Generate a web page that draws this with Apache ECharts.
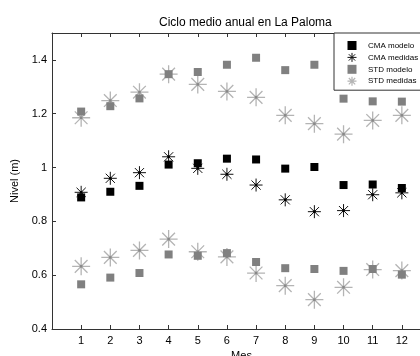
<!DOCTYPE html>
<html>
<head>
<meta charset="utf-8">
<script src="https://cdn.jsdelivr.net/npm/echarts@6/dist/echarts.min.js"></script>
<style>
html,body{margin:0;padding:0;background:#fff;}
#chart{width:420px;height:356px;}
</style>
</head>
<body>
<div id="chart"></div>
<script>
// ---- data ----
var months = [1, 2, 3, 4, 5, 6, 7, 8, 9, 10, 11, 12];
var monthLabels = ['1', '2', '3', '4', '5', '6', '7', '8', '9', '10', '11', '12'];
var yTickLabels = ['0.4', '0.6', '0.8', '1', '1.2', '1.4'];
var cmaModelo = [0.889, 0.910, 0.932, 1.011, 1.016, 1.033, 1.030, 0.996, 1.002, 0.935, 0.937, 0.924];
var cmaMedidas = [0.908, 0.960, 0.981, 1.040, 0.997, 0.975, 0.935, 0.880, 0.836, 0.840, 0.899, 0.906];
var stdModeloSup = [1.208, 1.228, 1.257, 1.347, 1.355, 1.382, 1.408, 1.362, 1.382, 1.256, 1.246, 1.245];
var stdModeloInf = [0.566, 0.591, 0.608, 0.677, 0.672, 0.682, 0.649, 0.626, 0.623, 0.616, 0.623, 0.602];
var stdMedidasSup = [1.185, 1.249, 1.280, 1.347, 1.309, 1.283, 1.261, 1.194, 1.163, 1.124, 1.175, 1.194];
var stdMedidasInf = [0.633, 0.666, 0.692, 0.734, 0.687, 0.668, 0.608, 0.561, 0.509, 0.555, 0.621, 0.617];
var seriesNames = ['CMA modelo', 'CMA medidas', 'STD modelo', 'STD medidas'];

function pts(vals) { return months.map(function (m, i) { return [m, vals[i]]; }); }

var star = 'path://M0,7L14,7M7,0L7,14M2.05,2.05L11.95,11.95M11.95,2.05L2.05,11.95';
var square = 'path://M0,0L10,0L10,10L0,10Z';
var font = 'Liberation Sans, Arial, sans-serif';

var chart = echarts.init(document.getElementById('chart'), null, {renderer: 'canvas'});

function starSeries(name, vals, size, col, w) {
  return {
    name: name, type: 'scatter', data: pts(vals), symbol: star, symbolSize: size, symbolKeepAspect: true,
    itemStyle: {color: 'none', borderColor: col, borderWidth: w, opacity: 1},
    emphasis: {disabled: true}, z: 2
  };
}
function sqSeries(name, vals, col) {
  return {
    name: name, type: 'scatter', data: pts(vals), symbol: square, symbolSize: 8, symbolKeepAspect: true,
    itemStyle: {color: col, opacity: 1}, emphasis: {disabled: true}, z: 4
  };
}
function dotSeries(vals, col) {
  return {
    name: '_dot', type: 'scatter', data: pts(vals), symbol: 'rect', symbolSize: 2.5,
    itemStyle: {color: col, opacity: 1}, emphasis: {disabled: true}, z: 3, silent: true
  };
}

var option = {
  animation: false,
  backgroundColor: '#fff',
  title: {
    text: 'Ciclo medio anual en La Paloma',
    left: 154, top: 12,
    textStyle: {fontFamily: font, fontSize: 12, fontWeight: 'normal', color: '#000'}
  },
  legend: {
    data: [
      {name: seriesNames[0], icon: square, itemStyle: {color: '#000', borderWidth: 0}},
      {name: seriesNames[1], icon: star, itemStyle: {color: 'none', borderColor: '#111', borderWidth: 1}},
      {name: seriesNames[2], icon: square, itemStyle: {color: '#808080', borderWidth: 0}},
      {name: seriesNames[3], icon: star, itemStyle: {color: 'none', borderColor: '#b4b4b4', borderWidth: 1.2}}
    ],
    orient: 'vertical',
    left: 334, top: 33,
    padding: [8, 4, 2, 11],
    itemWidth: 22, itemHeight: 9, itemGap: 0.4,
    backgroundColor: '#fff',
    borderColor: '#333', borderWidth: 1, borderRadius: 0,
    textStyle: {fontFamily: font, fontSize: 8, color: '#000', lineHeight: 9},
    selectedMode: false
  },
  grid: {left: 52, top: 33, right: -11, bottom: 27, containLabel: false, outerBoundsMode: 'none'},
  xAxis: [{
    type: 'value', min: 0, max: 13, interval: 1, position: 'bottom',
    name: 'Mes', nameLocation: 'middle', nameGap: 19,
    nameTextStyle: {fontFamily: font, fontSize: 11, color: '#000'},
    axisLine: {show: true, onZero: false, lineStyle: {color: '#333', width: 1}},
    axisTick: {show: true, inside: true, length: 4, lineStyle: {color: '#333'}},
    axisLabel: {
      fontFamily: font, fontSize: 11, color: '#000', margin: 6,
      formatter: function (v) { var i = months.indexOf(v); return i >= 0 ? monthLabels[i] : ''; }
    },
    splitLine: {show: false}
  }, {
    type: 'value', min: 0, max: 13, interval: 1, position: 'top',
    axisLine: {show: true, onZero: false, lineStyle: {color: '#333', width: 1}},
    axisTick: {show: true, inside: true, length: 4, lineStyle: {color: '#333'}},
    axisLabel: {show: false}, splitLine: {show: false}
  }],
  yAxis: [{
    type: 'value', min: 0.4, max: 1.5, interval: 0.2, position: 'left',
    name: 'Nivel (m)', nameLocation: 'middle', nameGap: 24,
    nameTextStyle: {fontFamily: font, fontSize: 11, color: '#000'},
    axisLine: {show: true, onZero: false, lineStyle: {color: '#333', width: 1}},
    axisTick: {show: true, inside: true, length: 4, lineStyle: {color: '#333'}},
    axisLabel: {
      fontFamily: font, fontSize: 11, color: '#000', margin: 5, showMaxLabel: false,
      formatter: function (v) { var i = Math.round((v - 0.4) / 0.2); return (i >= 0 && i < yTickLabels.length && Math.abs(v - (0.4 + 0.2 * i)) < 1e-6) ? yTickLabels[i] : ''; }
    },
    splitLine: {show: false}
  }, {
    type: 'value', min: 0.4, max: 1.5, interval: 0.2, position: 'right',
    axisLine: {show: true, onZero: false, lineStyle: {color: '#333', width: 1}},
    axisTick: {show: true, inside: true, length: 4}, axisLabel: {show: false}, splitLine: {show: false}
  }],
  series: [
    starSeries('STD medidas', stdMedidasSup, 18, '#b4b4b4', 1.3),
    starSeries('STD medidas', stdMedidasInf, 18, '#b4b4b4', 1.3),
    dotSeries(stdMedidasSup, '#888'),
    dotSeries(stdMedidasInf, '#888'),
    sqSeries('CMA modelo', cmaModelo, '#000'),
    starSeries('CMA medidas', cmaMedidas, 13, '#111', 1),
    dotSeries(cmaMedidas, '#000'),
    sqSeries('STD modelo', stdModeloSup, '#808080'),
    sqSeries('STD modelo', stdModeloInf, '#808080')
  ]
};
chart.setOption(option);
</script>
</body>
</html>
